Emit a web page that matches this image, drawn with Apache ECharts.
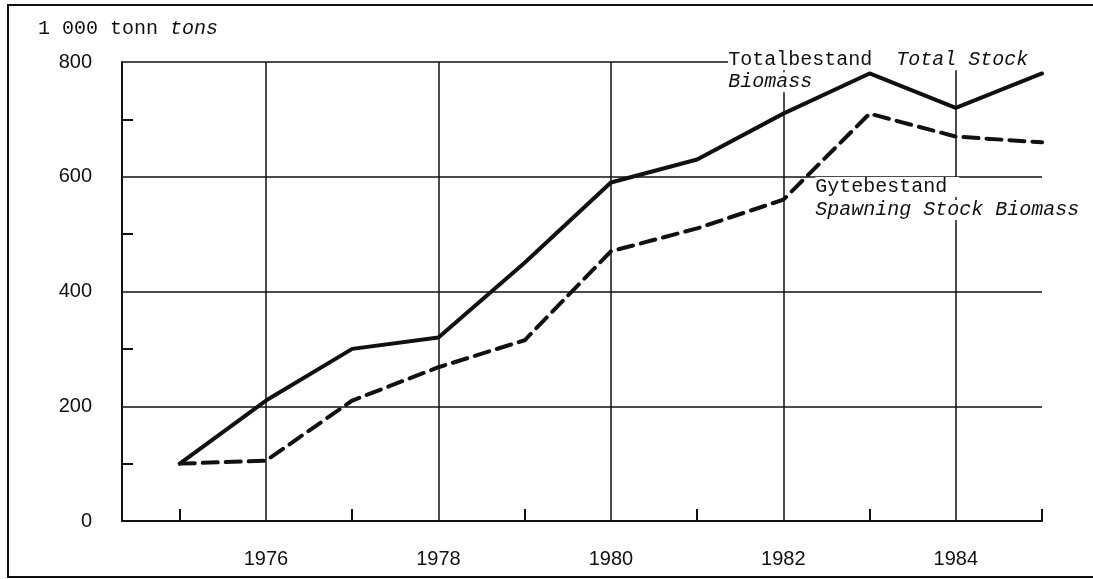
<!DOCTYPE html>
<html>
<head>
<meta charset="utf-8">
<script src="https://cdn.jsdelivr.net/npm/echarts@6/dist/echarts.min.js"></script>
<style>
html,body{margin:0;padding:0;background:#fff;}
#c{width:1093px;height:579px;}
</style>
</head>
<body>
<div id="c"></div>
<script>
var years = [1975,1976,1977,1978,1979,1980,1981,1982,1983,1984,1985];
var totalStock = [100,210,300,320,450,590,630,710,780,720,780];
var spawningStock = [100,105,210,268,315,470,510,560,710,670,660];
var xLabelYears = [1976,1978,1980,1982,1984];
var xTickYears = [1975,1977,1979,1981,1983,1985];
var xGridYears = [1976,1978,1980,1982,1984];
var xMin = 1974.33, xMax = 1985;
var yMin = 0, yMax = 800, yStep = 200;

var mono = "'Liberation Mono','DejaVu Sans Mono',monospace";
var sans = "'Liberation Sans','DejaVu Sans',sans-serif";

function pairs(v){ return years.map(function(y,i){ return [y, v[i]]; }); }

var chart = echarts.init(document.getElementById('c'), null, {renderer:'canvas'});
chart.setOption({
  animation:false,
  backgroundColor:'#fff',
  title:{
    text:'1 000 tonn {i|tons}',
    left:33, top:14,
    textStyle:{
      fontFamily:mono, fontSize:20, fontWeight:'normal', color:'#111',
      rich:{ i:{fontFamily:mono, fontSize:20, fontStyle:'italic', color:'#111'} }
    }
  },
  graphic:[{
    type:'polyline',
    shape:{points:[[1093,5],[8,5],[8,577],[1093,577]]},
    style:{stroke:'#111', lineWidth:2, fill:null},
    silent:true
  }],
  grid:{left:122, right:51, top:62, bottom:58},
  xAxis:{
    type:'value', min:xMin, max:xMax,
    axisLine:{show:true, lineStyle:{color:'#111', width:2}},
    axisTick:{show:true, inside:true, length:12, customValues:xTickYears, lineStyle:{color:'#111', width:2}},
    axisLabel:{show:true, customValues:xLabelYears, margin:28, fontFamily:sans, fontSize:20, color:'#111', formatter:function(v){return String(Math.round(v));}},
    splitLine:{show:false}
  },
  yAxis:{
    type:'value', min:yMin, max:yMax, interval:yStep,
    axisLine:{show:true, lineStyle:{color:'#111', width:2}},
    axisTick:{show:true, inside:true, length:0},
    minorTick:{show:true, splitNumber:2, length:11, lineStyle:{color:'#111', width:2}},
    axisLabel:{margin:30, fontFamily:sans, fontSize:20, color:'#111'},
    splitLine:{show:true, lineStyle:{color:'#111', width:1.5}}
  },
  series:[
    {
      type:'line', name:'Spawning', data:pairs(spawningStock),
      showSymbol:false, symbol:'none',
      lineStyle:{color:'#111', width:4, type:[15,8], cap:'round'},
      z:6,
      markLine:{
        silent:true, symbol:'none', animation:false, z:1,
        label:{show:false},
        lineStyle:{color:'#111', width:1.5, type:'solid'},
        data:xGridYears.map(function(y){ return {xAxis:y}; })
      },
      markPoint:{
        silent:true, symbol:'circle', symbolSize:0, z:2,
        data:[{coord:[1982.37, 562]}],
        label:{
          show:true, position:'right', distance:0,
          formatter:'{g|Gytebestand}\n{s|Spawning Stock Biomass}',
          rich:{
            g:{fontFamily:mono, fontSize:20, color:'#111', lineHeight:23, backgroundColor:'#fff', padding:[0,12,0,0]},
            s:{fontFamily:mono, fontSize:20, fontStyle:'italic', color:'#111', lineHeight:23, backgroundColor:'#fff', padding:[0,4,0,0]}
          }
        }
      }
    },
    {
      type:'line', name:'Total', data:pairs(totalStock),
      showSymbol:false, symbol:'none',
      lineStyle:{color:'#111', width:4, cap:'round', join:'round'},
      z:7,
      markPoint:{
        silent:true, symbol:'circle', symbolSize:0, z:2,
        data:[{coord:[1981.36, 784]}],
        label:{
          show:true, position:'right', distance:0,
          formatter:'{a|Totalbestand  }{b|Total Stock}\n{c|Biomass}',
          rich:{
            a:{fontFamily:mono, fontSize:20, color:'#111', lineHeight:22, backgroundColor:'#fff'},
            b:{fontFamily:mono, fontSize:20, fontStyle:'italic', color:'#111', lineHeight:22, backgroundColor:'#fff', padding:[0,16,0,0]},
            c:{fontFamily:mono, fontSize:20, fontStyle:'italic', color:'#111', lineHeight:22, backgroundColor:'#fff'}
          }
        }
      }
    }
  ]
});
</script>
</body>
</html>
